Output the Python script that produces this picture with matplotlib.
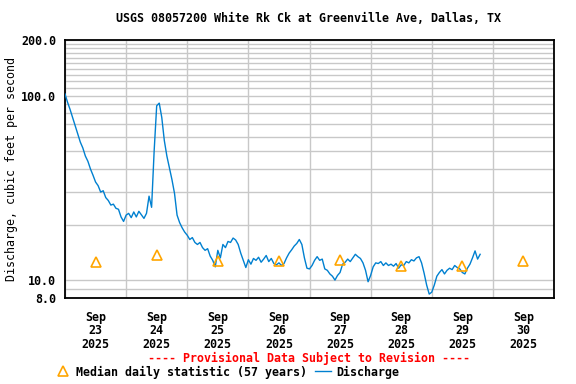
import numpy as np
import pandas as pd
import matplotlib
matplotlib.use('Agg')
import matplotlib.pyplot as plt
import matplotlib.dates as mdates
from matplotlib.ticker import FixedLocator, NullFormatter

# hourly discharge (cfs), starting Sep 23 2025 00:00
discharge = [
    102, 92, 84, 76, 69, 62, 56, 52, 47, 44, 40, 37,
    34, 32.5, 30, 30.5, 28, 27, 25.5, 25.8, 24.5, 24.2, 22, 20.8,
    22.5, 23, 21.8, 23.4, 22, 23.6, 22.6, 21.6, 23, 28.5, 24.8, 50,
    88, 91, 76, 57, 47, 40.5, 35, 29.5, 22.5, 20.5, 19.2, 18.2,
    17.5, 16.6, 17.0, 16.0, 15.6, 16.0, 15.0, 14.5, 14.8, 13.5, 12.8, 11.8,
    14.5, 13.2, 15.6, 15.0, 16.2, 16.0, 16.9, 16.5, 15.6, 14.0, 12.8, 11.7,
    12.9, 12.2, 13.1, 12.8, 13.3, 12.5, 13.0, 13.6, 12.6, 13.1, 12.3, 12.1,
    12.4, 12.0, 12.3, 13.2, 14.0, 14.6, 15.3, 15.8, 16.6, 15.6, 13.2, 11.6,
    11.5, 12.0, 12.8, 13.4, 12.8, 13.0, 11.5, 11.3, 10.8, 10.5, 10.0, 10.6,
    11.0, 12.2, 12.5, 13.0, 12.6, 13.2, 13.8, 13.4, 13.1, 12.4, 11.3, 9.8,
    10.6, 11.8, 12.4, 12.3, 12.6, 12.0, 12.4, 12.0, 12.2, 11.9, 12.3, 11.6,
    12.1, 12.0, 12.6, 12.4, 12.9, 12.7, 13.2, 13.4, 12.4, 10.9, 9.4, 8.4,
    8.6, 9.4, 10.5, 11.0, 11.4, 10.8, 11.3, 11.6, 11.4, 12.0, 11.7, 11.5,
    11.0, 10.8, 11.6, 12.2, 13.2, 14.4, 13.0, 13.8,
]
times = pd.date_range('2025-09-23 00:00', periods=len(discharge), freq='h')

median_days = pd.date_range('2025-09-23 12:00', periods=8, freq='D')
median_vals = [12.6, 13.7, 12.7, 12.7, 12.8, 11.9, 12.0, 12.7]

title = 'USGS 08057200 White Rk Ck at Greenville Ave, Dallas, TX'
ylabel = 'Discharge, cubic feet per second'
y_major = [8, 10, 100, 200]
y_minor = [9, 20, 30, 40, 50, 60, 70, 80, 90,
           110, 120, 130, 140, 150, 160, 170, 180, 190]

plt.rcParams['font.family'] = 'DejaVu Sans Mono'
plt.rcParams['font.weight'] = 'bold'
fs = 8.4

fig = plt.figure(figsize=(5.76, 3.84), dpi=100)
ax = fig.add_axes([65/576, 86/384, 489/576, 258/384])

ax.plot(times, discharge, color='#0080D0', lw=1.0, label='Discharge', zorder=3)
ax.plot(median_days, median_vals, ls='none', marker='^', ms=7,
        mfc='none', mec='#FFA500', mew=1.2,
        label='Median daily statistic (57 years)', zorder=4)

ax.set_yscale('log')
ax.set_ylim(8, 200)
ax.yaxis.set_major_locator(FixedLocator(y_major))
ax.yaxis.set_minor_locator(FixedLocator(y_minor))
ax.yaxis.set_minor_formatter(NullFormatter())
ax.set_yticklabels([f'{v:.1f}' for v in y_major])

ax.set_xlim(pd.Timestamp('2025-09-23'), pd.Timestamp('2025-10-01'))
ax.set_xticks(median_days)
ax.set_xticklabels([d.strftime('%b\n%d\n%Y') for d in median_days],
                   linespacing=1.05)
ax.xaxis.set_minor_locator(mdates.DayLocator())

ax.grid(which='minor', color='#C8C8C8', lw=1.0)
ax.grid(which='major', axis='y', color='#C8C8C8', lw=1.0)
ax.tick_params(which='both', length=0, labelsize=fs)
ax.tick_params(axis='y', pad=6.5)
ax.tick_params(axis='x', pad=9)
ax.set_axisbelow(True)
for s in ax.spines.values():
    s.set_linewidth(1.3)

ax.set_ylabel(ylabel, fontsize=fs, va='center')
ax.yaxis.set_label_coords(-53/489, 0.5)
fig.text(309/576, 1 - 19/384, title, ha='center', va='center', fontsize=fs)
fig.text(309/576, 1 - 358/384, '---- Provisional Data Subject to Revision ----',
         ha='center', va='center', fontsize=fs, color='#FF0000')

h, l = ax.get_legend_handles_labels()
fig.legend(h[::-1], l[::-1], loc='center left', bbox_to_anchor=(55/576, 1 - 372/384),
           ncol=2, frameon=False, fontsize=fs, handlelength=1.4,
           handletextpad=0.4, columnspacing=0.7, borderpad=0, borderaxespad=0)

fig.savefig('out.png', dpi=100)
